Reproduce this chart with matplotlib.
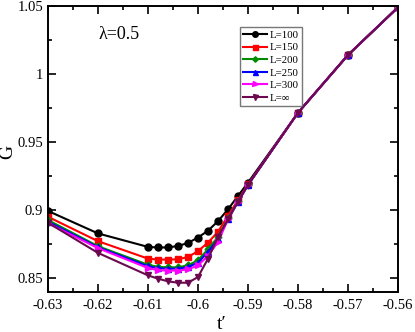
import matplotlib
matplotlib.use("Agg")
import matplotlib.pyplot as plt
from matplotlib.ticker import MultipleLocator, FormatStrFormatter

plt.rcParams['font.family'] = ['Liberation Serif', 'DejaVu Serif']
plt.rcParams['mathtext.fontset'] = 'stix'

t = [-0.63, -0.62, -0.61, -0.608, -0.606, -0.604, -0.602, -0.6, -0.598, -0.596,
     -0.594, -0.592, -0.59, -0.58, -0.57, -0.56]

G_100 = [0.8995, 0.883, 0.8731, 0.8727, 0.8727, 0.8738, 0.876, 0.880, 0.885, 0.892,
         0.9007, 0.9105, 0.9203, 0.9716, 1.014, 1.049]
G_150 = [0.8952, 0.8773, 0.8645, 0.8638, 0.8638, 0.8640, 0.8657, 0.870, 0.8763, 0.8842,
         0.8960, 0.9075, 0.9190, 0.9716, 1.014, 1.049]
G_200 = [0.8928, 0.8736, 0.8600, 0.8584, 0.8581, 0.8581, 0.8596, 0.8633, 0.8714, 0.8805,
         0.8940, 0.9065, 0.9186, 0.9716, 1.014, 1.049]
G_250 = [0.8915, 0.8728, 0.8589, 0.8574, 0.8571, 0.8571, 0.8583, 0.8616, 0.8694, 0.8788,
         0.8935, 0.9063, 0.9186, 0.9716, 1.014, 1.049]
G_300 = [0.8905, 0.8722, 0.8576, 0.8560, 0.8557, 0.8557, 0.8566, 0.8596, 0.8665, 0.8768,
         0.8933, 0.9063, 0.9186, 0.9716, 1.014, 1.049]
G_inf = [0.8908, 0.8687, 0.8522, 0.8498, 0.8478, 0.8468, 0.8468, 0.8510, 0.8645, 0.8805,
         0.8933, 0.9063, 0.9186, 0.9716, 1.014, 1.049]

labels = ['L=100', 'L=150', 'L=200', 'L=250', 'L=300', 'L=\u221e']
series = [G_100, G_150, G_200, G_250, G_300, G_inf]
colors = ['black', '#ff0000', '#008b00', '#0000ff', '#ff00ff', '#6b0a4f']
markers = ['o', 's', 'D', '^', '>', 'v']
msizes = [5, 4.5, 3.5, 4.5, 4.5, 4.5]

fig = plt.figure(figsize=(4.15, 3.32), dpi=100)
ax = fig.add_axes([0.1157, 0.1205, 0.8433, 0.8615])

for y, lab, c, m, ms in zip(series, labels, colors, markers, msizes):
    ax.plot(t, y, color=c, marker=m, markersize=ms, linewidth=1.5, label=lab)

ax.set_xlim(-0.63, -0.56)
ax.set_ylim(0.84, 1.05)
ax.xaxis.set_major_locator(MultipleLocator(0.01))
ax.xaxis.set_minor_locator(MultipleLocator(0.005))
ax.yaxis.set_major_locator(MultipleLocator(0.05))
ax.yaxis.set_minor_locator(MultipleLocator(0.025))
ax.xaxis.set_major_formatter(FormatStrFormatter('%g'))
ax.yaxis.set_major_formatter(FormatStrFormatter('%g'))
ax.tick_params(which='both', direction='in', top=True, right=True, labelsize=10.5, width=1.2)
ax.tick_params(which='major', length=6)
ax.tick_params(axis='x', which='major', pad=5)
ax.tick_params(which='minor', length=3)
for s in ax.spines.values():
    s.set_linewidth(1.4)

ax.set_xlabel('t\u2032', fontsize=14)
ax.xaxis.set_label_coords(0.497, -0.085)
ax.set_ylabel('G', fontsize=14)
ax.yaxis.set_label_coords(-0.09, 0.49)
ax.text(0.143, 0.899, '\u03bb=0.5', transform=ax.transAxes, fontsize=13, ha='left', va='center')

leg = ax.legend(loc='upper left', bbox_to_anchor=(0.549, 0.927), fontsize=7.8,
                frameon=True, fancybox=False, edgecolor='#555555', handlelength=2.2,
                handletextpad=0.25, labelspacing=0.28, borderpad=0.3, borderaxespad=0,
                markerscale=0.8)
leg.get_frame().set_linewidth(1.0)

fig.savefig('out.png', dpi=100)
